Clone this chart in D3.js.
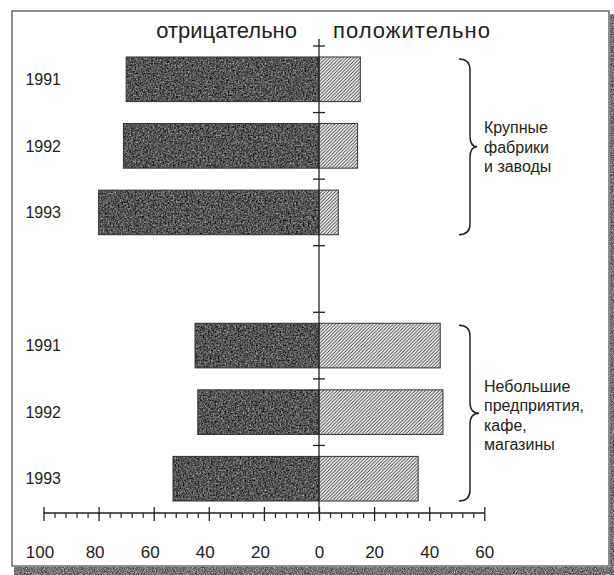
<!DOCTYPE html>
<meta charset="utf-8">
<head>
    <script src="https://d3js.org/d3.v7.min.js"></script>
    <style>
    body { margin: 0; background: white; }
    svg { display: block; font-family: "Liberation Sans", Arial, sans-serif; }
    </style>
</head>
<body>
    <svg id="chart" width="614" height="575"></svg>
    <script>
        // data
        var years = ["1991", "1992", "1993"];
        var groupNames = [["Крупные", "фабрики", "и заводы"],
                          ["Небольшие", "предприятия,", "кафе,", "магазины"]];
        var negLarge = [70, 71, 80];
        var posLarge = [15, 14, 7];
        var negSmall = [45, 44, 53];
        var posSmall = [44, 45, 36];
        var axisTicks = [-100, -80, -60, -40, -20, 0, 20, 40, 60];
        var headLeft = "отрицательно", headRight = "положительно";

        // rows: 3 years, an empty slot, 3 years
        var rows = [];
        years.forEach(function(y, i) { rows.push({key: "a" + y, year: y, neg: negLarge[i], pos: posLarge[i]}); });
        var gapKey = "gap";
        years.forEach(function(y, i) { rows.push({key: "b" + y, year: y, neg: negSmall[i], pos: posSmall[i]}); });
        var slots = rows.slice(0, 3).map(function(d) { return d.key; })
            .concat([gapKey], rows.slice(3).map(function(d) { return d.key; }));

        var svg = d3.select("#chart");

        var x = d3.scaleLinear().domain([-100, 60]).range([43.5, 484.3]);
        var y = d3.scaleBand().domain(slots).range([46, 512])
            .paddingInner(0.33).paddingOuter(0.165);
        var axisY = 513;

        var defs = svg.append("defs");
        // grainy dark fill
        var f = defs.append("filter").attr("id", "grain")
            .attr("color-interpolation-filters", "sRGB")
            .attr("x", 0).attr("y", 0).attr("width", 1).attr("height", 1);
        f.append("feTurbulence").attr("type", "fractalNoise")
            .attr("baseFrequency", 0.6).attr("numOctaves", 3).attr("seed", 4).attr("result", "n");
        f.append("feColorMatrix").attr("in", "n").attr("type", "matrix")
            .attr("values", "0.9 0 0 0 -0.12  0.9 0 0 0 -0.12  0.9 0 0 0 -0.12  0 0 0 0 1")
            .attr("result", "g");
        f.append("feComposite").attr("in", "g").attr("in2", "SourceGraphic").attr("operator", "in");

        var f2 = defs.append("filter").attr("id", "grainLight")
            .attr("color-interpolation-filters", "sRGB")
            .attr("x", 0).attr("y", 0).attr("width", 1).attr("height", 1);
        f2.append("feTurbulence").attr("type", "fractalNoise")
            .attr("baseFrequency", 0.9).attr("numOctaves", 2).attr("seed", 9).attr("result", "n");
        f2.append("feColorMatrix").attr("in", "n").attr("type", "matrix")
            .attr("values", "0.9 0 0 0 0.0  0.9 0 0 0 0.0  0.9 0 0 0 0.0  0 0 0 0 1")
            .attr("result", "g");
        f2.append("feComposite").attr("in", "g").attr("in2", "SourceGraphic").attr("operator", "in");

        // hatch for positive bars
        var hs = 3.4;
        var pat = defs.append("pattern").attr("id", "hatch")
            .attr("patternUnits", "userSpaceOnUse").attr("width", hs).attr("height", hs);
        pat.append("rect").attr("width", hs).attr("height", hs).attr("fill", "white");
        pat.append("path")
            .attr("d", "M-1,1 l2,-2 M0," + hs + " l" + hs + ",-" + hs + " M" + (hs - 1) + "," + (hs + 1) + " l2,-2")
            .attr("stroke", "#333").attr("stroke-width", 0.9);

        // frame with scanned shadow
        svg.append("rect").attr("x", 14).attr("y", 567).attr("width", 600).attr("height", 8)
            .attr("fill", "#777").attr("filter", "url(#grainLight)");
        svg.append("rect").attr("x", 610).attr("y", 14).attr("width", 4).attr("height", 561)
            .attr("fill", "#777").attr("filter", "url(#grainLight)");
        svg.append("rect").attr("x", 12).attr("y", 11).attr("width", 597).attr("height", 555)
            .attr("fill", "white").attr("stroke", "#444").attr("stroke-width", 1.2);

        // header
        svg.append("text").attr("x", x(0) - 22).attr("y", 38)
            .attr("text-anchor", "end").attr("font-size", 22).attr("fill", "#222")
            .text(headLeft);
        svg.append("text").attr("x", x(0) + 14).attr("y", 38)
            .attr("text-anchor", "start").attr("font-size", 22).attr("fill", "#222")
            .attr("textLength", 157)
            .text(headRight);

        // bars
        var bars = svg.append("g");
        bars.selectAll(".neg").data(rows).enter().append("rect")
            .attr("x", function(d) { return x(-d.neg); })
            .attr("y", function(d) { return y(d.key); })
            .attr("width", function(d) { return x(0) - x(-d.neg); })
            .attr("height", y.bandwidth())
            .attr("fill", "#555").attr("filter", "url(#grain)");
        bars.selectAll(".negline").data(rows).enter().append("rect")
            .attr("x", function(d) { return x(-d.neg); })
            .attr("y", function(d) { return y(d.key); })
            .attr("width", function(d) { return x(0) - x(-d.neg); })
            .attr("height", y.bandwidth())
            .attr("fill", "none").attr("stroke", "#333").attr("stroke-width", 1);
        bars.selectAll(".pos").data(rows).enter().append("rect")
            .attr("x", x(0))
            .attr("y", function(d) { return y(d.key); })
            .attr("width", function(d) { return x(d.pos) - x(0); })
            .attr("height", y.bandwidth())
            .attr("fill", "url(#hatch)").attr("stroke", "#333").attr("stroke-width", 1);

        // year labels
        svg.append("g").selectAll("text").data(rows).enter().append("text")
            .attr("x", 61)
            .attr("y", function(d) { return y(d.key) + y.bandwidth() / 2; })
            .attr("dy", "0.36em").attr("text-anchor", "end")
            .attr("font-size", 16).attr("fill", "#222")
            .text(function(d) { return d.year; });

        // zero line with small cross marks between rows
        svg.append("line").attr("x1", x(0)).attr("x2", x(0)).attr("y1", 39).attr("y2", axisY)
            .attr("stroke", "#222").attr("stroke-width", 1.3);
        var half = (y.step() - y.bandwidth()) / 2;
        svg.append("g").selectAll("line").data(slots).enter().append("line")
            .attr("x1", x(0) - 6).attr("x2", x(0) + 6)
            .attr("y1", function(d) { return y(d) - half; })
            .attr("y2", function(d) { return y(d) - half; })
            .attr("stroke", "#222").attr("stroke-width", 1.3);

        // bottom axis
        svg.append("line").attr("x1", x(-100)).attr("x2", x(60)).attr("y1", axisY).attr("y2", axisY)
            .attr("stroke", "#222").attr("stroke-width", 1.3);
        var minor = d3.range(-100, 61, 4).filter(function(v) { return v % 20 !== 0; });
        var minorAxis = svg.append("g").attr("transform", "translate(0," + axisY + ")")
            .call(d3.axisBottom(x).tickValues(minor).tickSize(5).tickFormat(""));
        minorAxis.select(".domain").remove();
        minorAxis.selectAll("line").attr("stroke", "#222").attr("stroke-width", 1.2);

        var majorAxis = svg.append("g").attr("transform", "translate(0," + (axisY - 6) + ")")
            .call(d3.axisBottom(x).tickValues(axisTicks).tickSize(14).tickPadding(25)
                .tickFormat(function(v) { return Math.abs(v); }));
        majorAxis.select(".domain").remove();
        majorAxis.selectAll("line").attr("stroke", "#222").attr("stroke-width", 1.3);
        majorAxis.selectAll("text").attr("font-size", 17).attr("fill", "#222")
            .attr("font-family", "Liberation Sans, Arial, sans-serif")
            .attr("dx", function(v) { return v < 0 ? -4 : 0; });

        // braces and group names
        function brace(y0, y1, tipX) {
            var x0 = 459, xs = 470, r = 11, ym = (y0 + y1) / 2;
            return "M" + x0 + "," + y0 + " Q" + xs + "," + y0 + " " + xs + "," + (y0 + r) +
                " L" + xs + "," + (ym - r) + " Q" + xs + "," + ym + " " + tipX + "," + ym +
                " Q" + xs + "," + ym + " " + xs + "," + (ym + r) +
                " L" + xs + "," + (y1 - r) + " Q" + xs + "," + y1 + " " + x0 + "," + y1;
        }
        var groups = [rows.slice(0, 3), rows.slice(3)];
        groups.forEach(function(g, i) {
            var y0 = y(g[0].key) + 2, y1 = y(g[2].key) + y.bandwidth();
            svg.append("path").attr("d", brace(y0, y1, 477 + i * 2))
                .attr("fill", "none").attr("stroke", "#222").attr("stroke-width", 1.5);
            var lines = groupNames[i];
            var mid = (y0 + y1) / 2 + (i === 0 ? 0 : 2);
            var lh = 19.5;
            svg.append("text").attr("x", 484).attr("font-size", 16).attr("fill", "#222")
                .selectAll("tspan").data(lines).enter().append("tspan")
                .attr("x", 484)
                .attr("y", function(d, k) { return mid + (k - (lines.length - 1) / 2) * lh; })
                .attr("dy", "0.36em")
                .text(function(d) { return d; });
        });
    </script>
</body>
